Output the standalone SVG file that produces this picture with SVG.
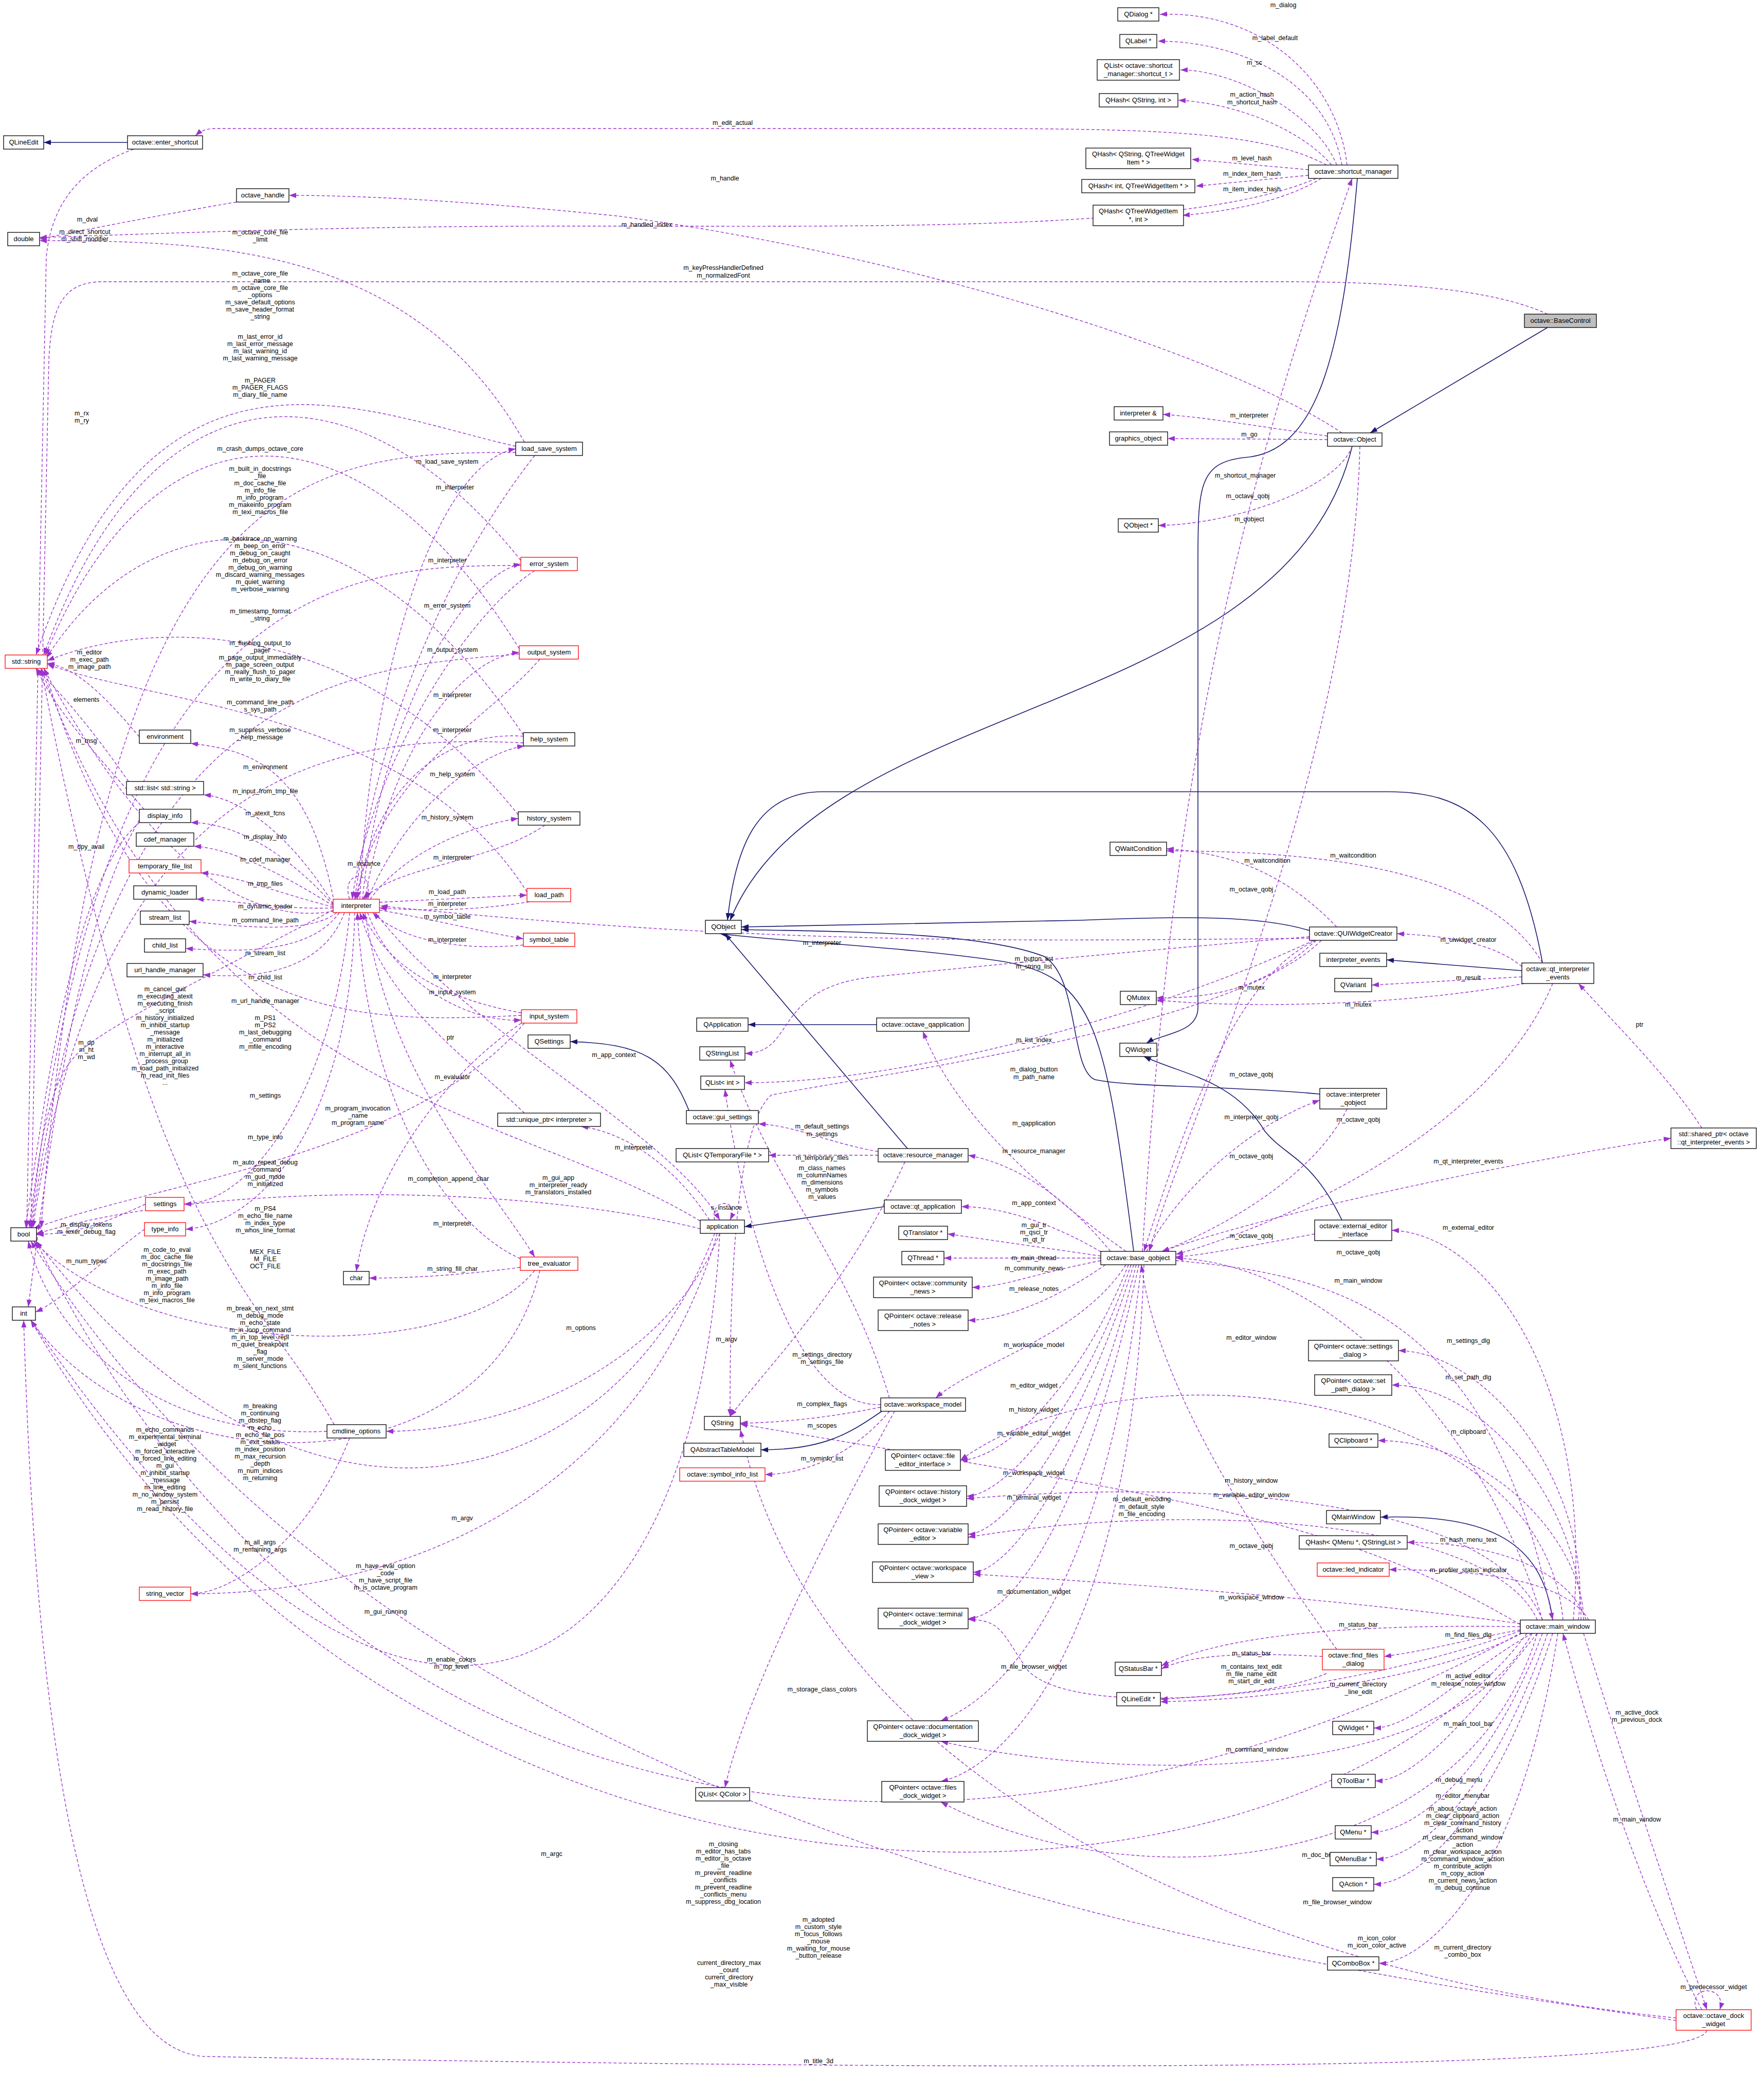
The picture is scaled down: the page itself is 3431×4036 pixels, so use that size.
<svg xmlns="http://www.w3.org/2000/svg" width="3431" height="4036" viewBox="0 0 3431 4036">
<style>
text{font-family:"Liberation Sans",Arial,sans-serif;font-size:13px;fill:#000}
.n rect{fill:#fff;stroke:#000;stroke-width:1.3}
.r rect{stroke:#f00}
.g rect{fill:#bfbfbf}
.n text{text-anchor:middle}
.e{fill:none;stroke:#9a32cd;stroke-width:1.4;stroke-dasharray:6,4;marker-end:url(#ap)}
.i{fill:none;stroke:#191970;stroke-width:1.6;marker-end:url(#an)}
.lb text{text-anchor:middle;font-size:12.5px}
</style>
<defs>
<marker id="ap" markerUnits="userSpaceOnUse" markerWidth="15" markerHeight="11" refX="14" refY="5" orient="auto"><path d="M0,0L14,5L0,10z" fill="#9a32cd"/></marker>
<marker id="an" markerUnits="userSpaceOnUse" markerWidth="15" markerHeight="11" refX="14" refY="5" orient="auto"><path d="M0,0L14,5L0,10z" fill="#191970"/></marker>
</defs>
<rect width="3431" height="4036" fill="#fff"/>
<g id="connectors">
<path class="i" d="M248,277L85,277"/>
<path class="i" d="M3010,637L2665,842"/>
<path class="i" d="M2630,868C2500,1400 1600,1350 1420,1790"/>
<path class="i" d="M2640,347C2610,700 2560,880 2420,890C2330,900 2330,950 2330,1100L2330,1960C2330,2010 2260,2010 2230,2029"/>
<path class="i" d="M2547,1810C2450,1780 2300,1782 2100,1790L1442,1803"/>
<path class="i" d="M3000,1872C2950,1600 2850,1540 2700,1540L1600,1540C1470,1540 1430,1650 1415,1790"/>
<path class="i" d="M2960,1888L2697,1867"/>
<path class="i" d="M1705,1993L1455,1993"/>
<path class="i" d="M2567,2128C2400,2112 2200,2115 2130,2100C2080,2080 2100,1900 2030,1860C1900,1810 1600,1812 1442,1808"/>
<path class="i" d="M1340,2160C1300,2060 1250,2030 1109,2026"/>
<path class="i" d="M1765,2234L1410,1816"/>
<path class="i" d="M1720,2347L1448,2386"/>
<path class="i" d="M2610,2373C2550,2250 2500,2250 2460,2200C2400,2100 2300,2090 2225,2055"/>
<path class="i" d="M2205,2434C2150,2000 2130,1900 1950,1870C1750,1840 1500,1830 1400,1816"/>
<path class="i" d="M1715,2745C1650,2790 1600,2820 1480,2820"/>
<path class="i" d="M3020,3151C3000,3000 2900,2945 2685,2951"/>

<path class="e" d="M2620,321C2600,150 2450,20 2256,28"/>
<path class="e" d="M2610,321C2580,150 2400,80 2252,80"/>
<path class="e" d="M2600,321C2560,220 2400,136 2296,136"/>
<path class="e" d="M2590,321C2530,250 2400,200 2292,195"/>
<path class="e" d="M2545,330L2318,310"/>
<path class="e" d="M2545,341L2326,362"/>
<path class="e" d="M2570,347C2500,390 2400,410 2300,419"/>
<path class="e" d="M2580,321C2450,250 2200,250 1800,250L420,250C400,250 390,255 380,264"/>
<path class="e" d="M2560,347C2300,460 1600,437 1000,440C600,442 300,455 77,462"/>
<path class="e" d="M2582,848C2450,830 2350,812 2262,806"/>
<path class="e" d="M2582,855L2271,853"/>
<path class="e" d="M2630,868C2600,950 2400,1020 2253,1022"/>
<path class="e" d="M2610,842C2400,700 1800,500 1200,420C900,390 700,380 562,380"/>
<path class="e" d="M2645,868C2630,1500 2300,2200 2235,2434"/>
<path class="e" d="M2222,2434C2280,1500 2400,1000 2630,347"/>
<path class="e" d="M3010,611C2900,560 2700,548 2500,548L200,548C120,548 100,600 95,700L60,2388"/>
<path class="e" d="M260,290C150,330 100,400 90,500L52,2388"/>
<path class="e" d="M460,393C300,420 150,450 77,465"/>

<path class="e" d="M700,1749C720,1300 850,900 1003,873"/>
<path class="e" d="M1040,886C950,1000 750,1300 690,1749"/>
<path class="e" d="M705,1749C740,1400 900,1120 1013,1097"/>
<path class="e" d="M1040,1110C900,1200 720,1500 685,1749"/>
<path class="e" d="M710,1749C760,1450 900,1280 1010,1269"/>
<path class="e" d="M1050,1282C950,1400 740,1500 692,1749"/>
<path class="e" d="M715,1749C800,1550 950,1460 1020,1451"/>
<path class="e" d="M1018,1432C850,1420 720,1550 695,1749"/>
<path class="e" d="M720,1749C800,1640 950,1600 1008,1592"/>
<path class="e" d="M1060,1605C950,1680 780,1680 705,1749"/>
<path class="e" d="M738,1755L1025,1741"/>
<path class="e" d="M1030,1754C900,1775 800,1770 738,1766"/>
<path class="e" d="M738,1770C850,1790 950,1815 1018,1826"/>
<path class="e" d="M1018,1838C900,1850 780,1830 725,1775"/>
<path class="e" d="M715,1775C760,1900 900,1990 1014,1984"/>
<path class="e" d="M1014,1970C900,1950 760,1900 705,1775"/>
<path class="e" d="M710,1775C760,2100 950,2300 1040,2445"/>
<path class="e" d="M1012,2448C900,2400 720,2200 695,1775"/>
<path class="e" d="M1020,2165C900,2050 750,1950 700,1775"/>
<path class="e" d="M680,1749C660,1690 735,1690 712,1749"/>
<path class="e" d="M730,1775C900,2000 1300,2200 1400,2373"/>
<path class="e" d="M650,1755C600,1500 500,1460 371,1446"/>
<path class="e" d="M648,1758C550,1600 450,1550 396,1546"/>
<path class="e" d="M648,1760C550,1650 450,1600 371,1600"/>
<path class="e" d="M648,1762C550,1700 450,1650 377,1646"/>
<path class="e" d="M648,1764C550,1740 450,1700 391,1698"/>
<path class="e" d="M648,1766C550,1770 450,1750 382,1749"/>
<path class="e" d="M655,1775C600,1820 450,1800 368,1792"/>
<path class="e" d="M660,1775C600,1860 450,1850 361,1845"/>
<path class="e" d="M670,1775C620,1910 450,1900 395,1896"/>
<path class="e" d="M680,1775C650,2100 500,2340 358,2342"/>
<path class="e" d="M690,1775C680,2200 500,2380 361,2391"/>
<path class="e" d="M648,1770C400,1900 200,2000 150,2050C100,2100 80,2200 57,2388"/>
<path class="e" d="M650,1772C500,1800 300,1700 85,1300"/>

<path class="e" d="M271,1433C200,1350 150,1300 92,1290"/>
<path class="e" d="M250,1520C180,1420 130,1360 70,1300"/>
<path class="e" d="M271,1595C150,1800 100,2200 55,2542"/>
<path class="e" d="M271,1600C150,1700 90,2100 50,2388"/>
<path class="e" d="M280,1574C200,1480 120,1400 70,1300"/>
<path class="e" d="M283,2342C200,2380 150,2400 71,2401"/>
<path class="e" d="M281,2391C200,2450 120,2530 69,2552"/>
<path class="e" d="M636,2784C300,2800 100,2600 55,2414"/>
<path class="e" d="M680,2797C600,3000 450,3100 371,3100"/>
<path class="e" d="M650,2771C500,2500 300,2450 80,1300"/>
<path class="e" d="M1003,868C700,800 300,600 70,1274"/>
<path class="e" d="M1003,880C600,880 200,900 80,2388"/>
<path class="e" d="M1020,860C800,470 400,470 77,468"/>
<path class="e" d="M1013,1090C700,700 300,680 85,1274"/>
<path class="e" d="M1013,1100C700,1100 200,1100 60,2388"/>
<path class="e" d="M1010,1262C700,760 300,760 88,1275"/>
<path class="e" d="M1010,1272C700,1300 200,1300 62,2388"/>
<path class="e" d="M1018,1430C700,950 300,950 90,1280"/>
<path class="e" d="M1018,1445C700,1430 200,1450 64,2388"/>
<path class="e" d="M1008,1585C700,1200 300,1200 92,1285"/>
<path class="e" d="M1025,1735C800,1380 300,1370 92,1292"/>
<path class="e" d="M1012,2465C900,2480 800,2486 718,2486"/>
<path class="e" d="M1040,2471C900,2650 300,2650 65,2414"/>
<path class="e" d="M1050,2471C950,2900 300,2900 60,2568"/>
<path class="e" d="M1014,1990C850,2100 720,2300 693,2473"/>
<path class="e" d="M1020,1990C800,2250 300,2300 65,2390"/>
<path class="e" d="M1014,1975C700,1990 300,2010 86,1300"/>

<path class="e" d="M1380,2373C1300,2250 1200,2200 1130,2191"/>
<path class="e" d="M1390,2373C1380,2330 1440,2330 1420,2373"/>
<path class="e" d="M1400,2399C1300,2650 1000,2784 751,2784"/>
<path class="e" d="M1395,2399C1250,2900 800,3100 371,3100"/>
<path class="e" d="M1390,2399C1200,2900 600,3100 70,2414"/>
<path class="e" d="M1370,2380C1000,2150 400,2160 80,1300"/>
<path class="e" d="M1400,2399C1350,3300 800,3650 60,2568"/>
<path class="e" d="M1362,2390C1000,2300 400,2300 70,2400"/>

<path class="e" d="M2560,1829C2400,1900 2300,2200 2225,2434"/>
<path class="e" d="M2547,1822C2200,1850 1900,1880 1700,1900C1500,1920 1550,2049 1449,2049"/>
<path class="e" d="M2555,1829C2300,1950 1800,2106 1448,2106"/>
<path class="e" d="M2570,1829C2400,2000 1700,2090 1500,2130C1420,2200 1420,2600 1420,2755"/>
<path class="e" d="M2600,1803C2500,1700 2400,1660 2269,1651"/>
<path class="e" d="M2560,1829C2450,1930 2350,1941 2249,1941"/>
<path class="e" d="M2547,1825C2000,1830 1500,1840 740,1762"/>
<path class="e" d="M2960,1880C2900,1830 2800,1820 2717,1816"/>
<path class="e" d="M2960,1900L2668,1916"/>
<path class="e" d="M2965,1913C2700,1960 2400,1960 2249,1945"/>
<path class="e" d="M3000,1873C2900,1700 2600,1655 2269,1655"/>
<path class="e" d="M3020,1913C2900,2200 2500,2380 2287,2440"/>
<path class="e" d="M3310,2194C3250,2100 3150,2000 3070,1913"/>
<path class="e" d="M2620,2157C2550,2300 2350,2400 2260,2434"/>
<path class="e" d="M2230,2434C2300,2300 2450,2180 2567,2140"/>
<path class="e" d="M2260,2434C2500,2350 3000,2250 3250,2214"/>
<path class="e" d="M2190,2434C2000,2300 1850,2150 1795,2006"/>
<path class="e" d="M2160,2434C2050,2300 1950,2260 1883,2247"/>
<path class="e" d="M2150,2440C2050,2380 1950,2347 1870,2347"/>
<path class="e" d="M2141,2443L1843,2400"/>
<path class="e" d="M2141,2447L1836,2447"/>
<path class="e" d="M2141,2452C2000,2480 1950,2504 1891,2504"/>
<path class="e" d="M2150,2460C2050,2530 1950,2568 1883,2568"/>
<path class="e" d="M2190,2460C2100,2600 1900,2650 1820,2719"/>
<path class="e" d="M2195,2460C2100,2700 1950,2840 1868,2840"/>
<path class="e" d="M2200,2460C2100,2750 1950,2910 1880,2910"/>
<path class="e" d="M2205,2460C2100,2800 1950,2984 1883,2984"/>
<path class="e" d="M2210,2460C2100,2900 1950,3058 1893,3058"/>
<path class="e" d="M2215,2460C2100,3000 1950,3148 1883,3148"/>
<path class="e" d="M2220,2460C2150,3100 1950,3300 1830,3347"/>
<path class="e" d="M2225,2460C2200,3200 1950,3440 1830,3465"/>
<path class="e" d="M2287,2452C2600,2480 2900,2550 3020,3151"/>
<path class="e" d="M3000,3151C2900,2800 2600,2460 2287,2447"/>
<path class="e" d="M2557,2400C2450,2420 2350,2440 2287,2445"/>
<path class="e" d="M3060,3151C3100,2700 2900,2400 2707,2393"/>
<path class="e" d="M3070,3151C3100,2900 2900,2630 2720,2627"/>
<path class="e" d="M3075,3151C3080,2950 2900,2694 2707,2694"/>
<path class="e" d="M3080,3151C3080,3000 2900,2802 2680,2802"/>
<path class="e" d="M3085,3151C3050,3050 2900,3000 2737,3000"/>
<path class="e" d="M3090,3151C3050,3080 2900,3053 2702,3053"/>
<path class="e" d="M2957,3170C2850,3190 2780,3210 2692,3222"/>
<path class="e" d="M2957,3164C2700,3160 2400,3170 2259,3240"/>
<path class="e" d="M2572,3222C2450,3215 2320,3215 2259,3246"/>
<path class="e" d="M2580,3255C2500,3290 2350,3300 2257,3305"/>
<path class="e" d="M2960,3177C2800,3260 2500,3305 2257,3310"/>
<path class="e" d="M2980,3177C2850,3250 2750,3361 2672,3361"/>
<path class="e" d="M2990,3177C2850,3350 2750,3464 2675,3464"/>
<path class="e" d="M3000,3177C2900,3450 2750,3564 2667,3564"/>
<path class="e" d="M3010,3177C2900,3500 2750,3616 2677,3616"/>
<path class="e" d="M3020,3177C2900,3550 2750,3665 2672,3665"/>
<path class="e" d="M3030,3177C2950,3700 2750,3819 2682,3819"/>
<path class="e" d="M3080,3177C3150,3400 3250,3700 3320,3909"/>
<path class="e" d="M3310,3909C3200,3700 3100,3400 3040,3177"/>
<path class="e" d="M3300,3909C3280,3860 3360,3860 3345,3909"/>
<path class="e" d="M3260,3925C2500,3850 1600,3500 1440,2781"/>
<path class="e" d="M3260,3930C2500,3820 800,3600 60,2414"/>
<path class="e" d="M3320,3949C3300,4030 2000,4030 400,4000C100,3990 60,3000 46,2568"/>
<path class="e" d="M2970,3177C2500,3800 800,3850 60,2568"/>
<path class="e" d="M2960,3175C2000,3700 700,3700 70,2414"/>
<path class="e" d="M2957,3160C2600,2950 2300,2916 1440,2770"/>
<path class="e" d="M3040,3151C3000,2700 2200,2600 1868,2840"/>
<path class="e" d="M3000,3151C2900,2900 2300,2880 1880,2915"/>
<path class="e" d="M2990,3151C2900,2950 2300,2920 1883,2990"/>
<path class="e" d="M2957,3158C2600,3110 2200,3080 1893,3062"/>
<path class="e" d="M2957,3172C2600,3300 2100,3350 2000,3250C1950,3180 1950,3150 1883,3150"/>
<path class="e" d="M2980,3177C2800,3500 2100,3450 1830,3387"/>
<path class="e" d="M2990,3177C2850,3650 2200,3700 1830,3505"/>
<path class="e" d="M2600,3208C2450,3000 2250,2700 2220,2460"/>
<path class="e" d="M1708,2247L1495,2247"/>
<path class="e" d="M1708,2240C1600,2220 1550,2190 1475,2186"/>
<path class="e" d="M1760,2260C1650,2500 1500,2650 1420,2755"/>
<path class="e" d="M1730,2719C1650,2450 1500,2300 1420,2062"/>
<path class="e" d="M1713,2732C1550,2740 1450,2400 1410,2119"/>
<path class="e" d="M1713,2737C1600,2760 1500,2768 1440,2768"/>
<path class="e" d="M1730,2745C1650,2840 1550,2868 1488,2868"/>
<path class="e" d="M1740,2745C1600,3000 1450,3300 1410,3477"/>
</g>
<g class="lb">
<text x="2496" y="14">m_dialog</text>
<text x="2480" y="78">m_label_default</text>
<text x="2440" y="126">m_sc</text>
<text x="2435" y="188">m_action_hash</text><text x="2435" y="203">m_shortcut_hash</text>
<text x="2435" y="312">m_level_hash</text>
<text x="2435" y="342">m_index_item_hash</text>
<text x="2435" y="372">m_item_index_hash</text>
<text x="1425" y="243">m_edit_actual</text>
<text x="1258" y="441">m_handled_index</text>
<text x="2430" y="812">m_interpreter</text>
<text x="2430" y="849">m_go</text>
<text x="2430" y="1014">m_qobject</text>
<text x="1410" y="351">m_handle</text>
<text x="2422" y="929">m_shortcut_manager</text>
<text x="2427" y="969">m_octave_qobj</text>
<text x="1407" y="525">m_keyPressHandlerDefined</text><text x="1407" y="540">m_normalizedFont</text>
<text x="165" y="455">m_direct_shortcut</text><text x="165" y="469">m_shift_modifier</text>
<text x="170" y="431">m_dval</text>
<text x="870" y="902">m_load_save_system</text>
<text x="885" y="952">m_interpreter</text>
<text x="870" y="1182">m_error_system</text>
<text x="870" y="1094">m_interpreter</text>
<text x="880" y="1268">m_output_system</text>
<text x="880" y="1356">m_interpreter</text>
<text x="880" y="1510">m_help_system</text>
<text x="880" y="1424">m_interpreter</text>
<text x="870" y="1594">m_history_system</text>
<text x="880" y="1672">m_interpreter</text>
<text x="870" y="1739">m_load_path</text>
<text x="870" y="1762">m_interpreter</text>
<text x="870" y="1787">m_symbol_table</text>
<text x="870" y="1832">m_interpreter</text>
<text x="880" y="1934">m_input_system</text>
<text x="880" y="1904">m_interpreter</text>
<text x="880" y="2099">m_evaluator</text>
<text x="880" y="2384">m_interpreter</text>
<text x="876" y="2022">ptr</text>
<text x="708" y="1684">m_instance</text>
<text x="1194" y="2056">m_app_context</text>
<text x="516" y="1496">m_environment</text>
<text x="516" y="1543">m_input_from_tmp_file</text>
<text x="516" y="1586">m_atexit_fcns</text>
<text x="516" y="1632">m_display_info</text>
<text x="516" y="1676">m_cdef_manager</text>
<text x="516" y="1723">m_tmp_files</text>
<text x="516" y="1767">m_dynamic_loader</text>
<text x="516" y="1794">m_command_line_path</text>
<text x="516" y="1858">m_stream_list</text>
<text x="516" y="1905">m_child_list</text>
<text x="516" y="1951">m_url_handle_manager</text>
<text x="516" y="1984">m_PS1</text><text x="516" y="1998">m_PS2</text><text x="516" y="2012">m_last_debugging</text><text x="516" y="2026">_command</text><text x="516" y="2040">m_mfile_encoding</text>
<text x="516" y="2135">m_settings</text>
<text x="516" y="2216">m_type_info</text>
<text x="516" y="2265">m_auto_repeat_debug</text><text x="516" y="2279">_command</text><text x="516" y="2293">m_gud_mode</text><text x="516" y="2307">m_initialized</text>
<text x="516" y="2355">m_PS4</text><text x="516" y="2369">m_echo_file_name</text><text x="516" y="2383">m_index_type</text><text x="516" y="2397">m_whos_line_format</text>
<text x="516" y="2439">MEX_FILE</text><text x="516" y="2453">M_FILE</text><text x="516" y="2467">OCT_FILE</text>
<text x="321" y="1928">m_cancel_quit</text><text x="321" y="1942">m_executing_atexit</text><text x="321" y="1956">m_executing_finish</text><text x="321" y="1970">_script</text><text x="321" y="1984">m_history_initialized</text><text x="321" y="1998">m_inhibit_startup</text><text x="321" y="2012">_message</text><text x="321" y="2026">m_initialized</text><text x="321" y="2040">m_interactive</text><text x="321" y="2054">m_interrupt_all_in</text><text x="321" y="2068">_process_group</text><text x="321" y="2082">m_load_path_initialized</text><text x="321" y="2096">m_read_init_files</text><text x="321" y="2110">...</text>
<text x="168" y="2032">m_dp</text><text x="168" y="2046">m_ht</text><text x="168" y="2060">m_wd</text>
<text x="168" y="1651">m_dpy_avail</text>
<text x="168" y="1445">m_msg</text>
<text x="168" y="1365">elements</text>
<text x="174" y="1273">m_editor</text><text x="174" y="1287">m_exec_path</text><text x="174" y="1301">m_image_path</text>
<text x="168" y="2386">m_display_tokens</text><text x="168" y="2400">m_lexer_debug_flag</text>
<text x="168" y="2457">m_num_types</text>
<text x="325" y="2435">m_code_to_eval</text><text x="325" y="2449">m_doc_cache_file</text><text x="325" y="2463">m_docstrings_file</text><text x="325" y="2477">m_exec_path</text><text x="325" y="2491">m_image_path</text><text x="325" y="2505">m_info_file</text><text x="325" y="2519">m_info_program</text><text x="325" y="2533">m_texi_macros_file</text>
<text x="880" y="2472">m_string_fill_char</text>
<text x="872" y="2297">m_completion_append_char</text>
<text x="1086" y="2295">m_gui_app</text><text x="1086" y="2309">m_interpreter_ready</text><text x="1086" y="2323">m_translators_installed</text>
<text x="696" y="2160">m_program_invocation</text><text x="696" y="2174">_name</text><text x="696" y="2188">m_program_name</text>
<text x="506" y="456">m_octave_core_file</text><text x="506" y="470">_limit</text>
<text x="506" y="536">m_octave_core_file</text><text x="506" y="550">_name</text><text x="506" y="564">m_octave_core_file</text><text x="506" y="578">_options</text><text x="506" y="592">m_save_default_options</text><text x="506" y="606">m_save_header_format</text><text x="506" y="620">_string</text>
<text x="506" y="659">m_last_error_id</text><text x="506" y="673">m_last_error_message</text><text x="506" y="687">m_last_warning_id</text><text x="506" y="701">m_last_warning_message</text>
<text x="506" y="744">m_PAGER</text><text x="506" y="758">m_PAGER_FLAGS</text><text x="506" y="772">m_diary_file_name</text>
<text x="506" y="877">m_crash_dumps_octave_core</text>
<text x="506" y="916">m_built_in_docstrings</text><text x="506" y="930">_file</text><text x="506" y="944">m_doc_cache_file</text><text x="506" y="958">m_info_file</text><text x="506" y="972">m_info_program</text><text x="506" y="986">m_makeinfo_program</text><text x="506" y="1000">m_texi_macros_file</text>
<text x="506" y="1052">m_backtrace_on_warning</text><text x="506" y="1066">m_beep_on_error</text><text x="506" y="1080">m_debug_on_caught</text><text x="506" y="1094">m_debug_on_error</text><text x="506" y="1108">m_debug_on_warning</text><text x="506" y="1122">m_discard_warning_messages</text><text x="506" y="1136">m_quiet_warning</text><text x="506" y="1150">m_verbose_warning</text>
<text x="506" y="1193">m_timestamp_format</text><text x="506" y="1207">_string</text>
<text x="506" y="1255">m_flushing_output_to</text><text x="506" y="1269">_pager</text><text x="506" y="1283">m_page_output_immediately</text><text x="506" y="1297">m_page_screen_output</text><text x="506" y="1311">m_really_flush_to_pager</text><text x="506" y="1325">m_write_to_diary_file</text>
<text x="506" y="1370">m_command_line_path</text><text x="506" y="1384">s_sys_path</text>
<text x="506" y="1424">m_suppress_verbose</text><text x="506" y="1438">_help_message</text>
<text x="159" y="808">m_rx</text><text x="159" y="822">m_ry</text>
<text x="506" y="2549">m_break_on_next_stmt</text><text x="506" y="2563">m_debug_mode</text><text x="506" y="2577">m_echo_state</text><text x="506" y="2591">m_in_loop_command</text><text x="506" y="2605">m_in_top_level_repl</text><text x="506" y="2619">m_quiet_breakpoint</text><text x="506" y="2633">_flag</text><text x="506" y="2647">m_server_mode</text><text x="506" y="2661">m_silent_functions</text>
<text x="506" y="2739">m_breaking</text><text x="506" y="2753">m_continuing</text><text x="506" y="2767">m_dbstep_flag</text><text x="506" y="2781">m_echo</text><text x="506" y="2795">m_echo_file_pos</text><text x="506" y="2809">m_exit_status</text><text x="506" y="2823">m_index_position</text><text x="506" y="2837">m_max_recursion</text><text x="506" y="2851">_depth</text><text x="506" y="2865">m_num_indices</text><text x="506" y="2879">m_returning</text>
<text x="321" y="2785">m_echo_commands</text><text x="321" y="2799">m_experimental_terminal</text><text x="321" y="2813">_widget</text><text x="321" y="2827">m_forced_interactive</text><text x="321" y="2841">m_forced_line_editing</text><text x="321" y="2855">m_gui</text><text x="321" y="2869">m_inhibit_startup</text><text x="321" y="2883">_message</text><text x="321" y="2897">m_line_editing</text><text x="321" y="2911">m_no_window_system</text><text x="321" y="2925">m_persist</text><text x="321" y="2939">m_read_history_file</text>
<text x="506" y="3004">m_all_args</text><text x="506" y="3018">m_remaining_args</text>
<text x="750" y="3050">m_have_eval_option</text><text x="750" y="3064">_code</text><text x="750" y="3078">m_have_script_file</text><text x="750" y="3092">m_is_octave_program</text>
<text x="750" y="3139">m_gui_running</text>
<text x="878" y="3232">m_enable_colors</text><text x="878" y="3246">m_top_level</text>
<text x="899" y="2957">m_argv</text>
<text x="1073" y="3610">m_argc</text>
<text x="1130" y="2587">m_options</text>
<text x="1233" y="2236">m_interpreter</text>
<text x="1413" y="2353">s_instance</text>
<text x="1413" y="2609">m_argv</text>
<text x="1407" y="3591">m_closing</text><text x="1407" y="3605">m_editor_has_tabs</text><text x="1407" y="3619">m_editor_is_octave</text><text x="1407" y="3633">_file</text><text x="1407" y="3647">m_prevent_readline</text><text x="1407" y="3661">_conflicts</text><text x="1407" y="3675">m_prevent_readline</text><text x="1407" y="3689">_conflicts_menu</text><text x="1407" y="3703">m_suppress_dbg_location</text>
<text x="1592" y="3738">m_adopted</text><text x="1592" y="3752">m_custom_style</text><text x="1592" y="3766">m_focus_follows</text><text x="1592" y="3780">_mouse</text><text x="1592" y="3794">m_waiting_for_mouse</text><text x="1592" y="3808">_button_release</text>
<text x="1418" y="3822">current_directory_max</text><text x="1418" y="3836">_count</text><text x="1418" y="3850">current_directory</text><text x="1418" y="3864">_max_visible</text>
<text x="1592" y="4013">m_title_3d</text>
<text x="2678" y="3774">m_icon_color</text><text x="2678" y="3788">m_icon_color_active</text>
<text x="3184" y="3543">m_main_window</text>
<text x="3333" y="3869">m_predecessor_widget</text>
<text x="3184" y="3335">m_active_dock</text><text x="3184" y="3349">m_previous_dock</text>
<text x="2845" y="3522">m_about_octave_action</text><text x="2845" y="3536">m_clear_clipboard_action</text><text x="2845" y="3550">m_clear_command_history</text><text x="2845" y="3564">_action</text><text x="2845" y="3578">m_clear_command_window</text><text x="2845" y="3592">_action</text><text x="2845" y="3606">m_clear_workspace_action</text><text x="2845" y="3620">m_command_window_action</text><text x="2845" y="3634">m_contribute_action</text><text x="2845" y="3648">m_copy_action</text><text x="2845" y="3662">m_current_news_action</text><text x="2845" y="3676">m_debug_continue</text>
<text x="2845" y="3497">m_editor_menubar</text>
<text x="2838" y="3466">m_debug_menu</text>
<text x="2856" y="3357">m_main_tool_bar</text>
<text x="2856" y="3264">m_active_editor</text><text x="2856" y="3279">m_release_notes_window</text>
<text x="2642" y="3280">m_current_directory</text><text x="2642" y="3295">_line_edit</text>
<text x="2434" y="3246">m_contains_text_edit</text><text x="2434" y="3260">m_file_name_edit</text><text x="2434" y="3274">m_start_dir_edit</text>
<text x="2434" y="3220">m_status_bar</text>
<text x="2642" y="3164">m_status_bar</text>
<text x="2856" y="3184">m_find_files_dlg</text>
<text x="2011" y="3246">m_file_browser_widget</text>
<text x="2434" y="3011">m_octave_qobj</text>
<text x="2011" y="3100">m_documentation_widget</text>
<text x="2434" y="3111">m_workspace_window</text>
<text x="2445" y="3407">m_command_window</text>
<text x="2601" y="3612">m_doc_browser_window</text>
<text x="2601" y="3704">m_file_browser_window</text>
<text x="2845" y="3792">m_current_directory</text><text x="2845" y="3806">_combo_box</text>
<text x="2434" y="1734">m_octave_qobj</text>
<text x="1599" y="1838">m_interpreter</text>
<text x="2011" y="1869">m_button_list</text><text x="2011" y="1884">m_string_list</text>
<text x="2856" y="1832">m_uiwidget_creator</text>
<text x="2856" y="1906">m_result</text>
<text x="2434" y="1925">m_mutex</text>
<text x="2642" y="1958">m_mutex</text>
<text x="2465" y="1678">m_waitcondition</text>
<text x="2632" y="1668">m_waitcondition</text>
<text x="3189" y="1997">ptr</text>
<text x="2011" y="2027">m_list_index</text>
<text x="2011" y="2084">m_dialog_button</text><text x="2011" y="2099">m_path_name</text>
<text x="2434" y="2094">m_octave_qobj</text>
<text x="2011" y="2189">m_qapplication</text>
<text x="2434" y="2177">m_interpreter_qobj</text>
<text x="2642" y="2182">m_octave_qobj</text>
<text x="1599" y="2195">m_default_settings</text><text x="1599" y="2210">m_settings</text>
<text x="2011" y="2243">m_resource_manager</text>
<text x="1599" y="2256">m_temporary_files</text>
<text x="2434" y="2253">m_octave_qobj</text>
<text x="2856" y="2263">m_qt_interpreter_events</text>
<text x="1599" y="2276">m_class_names</text><text x="1599" y="2290">m_columnNames</text><text x="1599" y="2304">m_dimensions</text><text x="1599" y="2318">m_symbols</text><text x="1599" y="2332">m_values</text>
<text x="2011" y="2344">m_app_context</text>
<text x="2011" y="2387">m_gui_tr</text><text x="2011" y="2401">m_qsci_tr</text><text x="2011" y="2415">m_qt_tr</text>
<text x="2856" y="2392">m_external_editor</text>
<text x="2434" y="2408">m_octave_qobj</text>
<text x="2642" y="2440">m_octave_qobj</text>
<text x="2011" y="2451">m_main_thread</text>
<text x="2011" y="2471">m_community_news</text>
<text x="2642" y="2495">m_main_window</text>
<text x="2011" y="2511">m_release_notes</text>
<text x="2434" y="2606">m_editor_window</text>
<text x="2856" y="2612">m_settings_dlg</text>
<text x="2011" y="2620">m_workspace_model</text>
<text x="1599" y="2639">m_settings_directory</text><text x="1599" y="2653">m_settings_file</text>
<text x="2856" y="2683">m_set_path_dlg</text>
<text x="2011" y="2699">m_editor_widget</text>
<text x="1599" y="2735">m_complex_flags</text>
<text x="2011" y="2746">m_history_widget</text>
<text x="1599" y="2777">m_scopes</text>
<text x="2856" y="2789">m_clipboard</text>
<text x="2011" y="2792">m_variable_editor_widget</text>
<text x="1599" y="2841">m_syminfo_list</text>
<text x="2011" y="2869">m_workspace_widget</text>
<text x="2434" y="2884">m_history_window</text>
<text x="2434" y="2912">m_variable_editor_window</text>
<text x="2011" y="2917">m_terminal_widget</text>
<text x="2221" y="2920">m_default_encoding</text><text x="2221" y="2935">m_default_style</text><text x="2221" y="2949">m_file_encoding</text>
<text x="2856" y="2999">m_hash_menu_text</text>
<text x="2856" y="3058">m_profiler_status_indicator</text>
<text x="1599" y="3290">m_storage_class_colors</text>
</g>

<g id="QDialog" class="n"><rect x="2174" y="15" width="80" height="26"/><text x="2214" y="32">QDialog *</text></g>
<g id="QLabel" class="n"><rect x="2178" y="67" width="72" height="26"/><text x="2214" y="84">QLabel *</text></g>
<g id="QListShortcut" class="n"><rect x="2134" y="116" width="160" height="40"/><text x="2214" y="132">QList&lt; octave::shortcut</text><text x="2214" y="148">_manager::shortcut_t &gt;</text></g>
<g id="QHashQStringInt" class="n"><rect x="2138" y="182" width="153" height="26"/><text x="2214" y="199">QHash&lt; QString, int &gt;</text></g>
<g id="QLineEdit" class="n"><rect x="7" y="264" width="78" height="26"/><text x="46" y="281">QLineEdit</text></g>
<g id="enter_shortcut" class="n"><rect x="248" y="264" width="146" height="26"/><text x="321" y="281">octave::enter_shortcut</text></g>
<g id="shortcut_manager" class="n"><rect x="2545" y="321" width="174" height="26"/><text x="2632" y="338">octave::shortcut_manager</text></g>
<g id="QHashQStringTree" class="n"><rect x="2112" y="288" width="204" height="40"/><text x="2214" y="304">QHash&lt; QString, QTreeWidget</text><text x="2214" y="320">Item * &gt;</text></g>
<g id="QHashIntTree" class="n"><rect x="2104" y="349" width="220" height="26"/><text x="2214" y="366">QHash&lt; int, QTreeWidgetItem * &gt;</text></g>
<g id="QHashTreeInt" class="n"><rect x="2126" y="399" width="176" height="40"/><text x="2214" y="415">QHash&lt; QTreeWidgetItem</text><text x="2214" y="431">*, int &gt;</text></g>
<g id="octave_handle" class="n"><rect x="460" y="367" width="102" height="26"/><text x="511" y="384">octave_handle</text></g>
<g id="double" class="n"><rect x="15" y="452" width="62" height="26"/><text x="46" y="469">double</text></g>
<g id="BaseControl" class="n g"><rect x="2965" y="611" width="140" height="26"/><text x="3035" y="628">octave::BaseControl</text></g>
<g id="interpreter_ref" class="n"><rect x="2167" y="791" width="95" height="26"/><text x="2214" y="808">interpreter &amp;</text></g>
<g id="graphics_object" class="n"><rect x="2158" y="840" width="113" height="26"/><text x="2214" y="857">graphics_object</text></g>
<g id="Object" class="n"><rect x="2582" y="842" width="106" height="26"/><text x="2635" y="859">octave::Object</text></g>
<g id="QObjectPtr" class="n"><rect x="2175" y="1009" width="78" height="26"/><text x="2214" y="1026">QObject *</text></g>
<g id="load_save_system" class="n"><rect x="1003" y="860" width="130" height="26"/><text x="1068" y="877">load_save_system</text></g>
<g id="error_system" class="n r"><rect x="1013" y="1084" width="110" height="26"/><text x="1068" y="1101">error_system</text></g>
<g id="std_string" class="n r"><rect x="10" y="1274" width="82" height="26"/><text x="51" y="1291">std::string</text></g>
<g id="output_system" class="n r"><rect x="1010" y="1256" width="115" height="26"/><text x="1068" y="1273">output_system</text></g>
<g id="environment" class="n"><rect x="271" y="1420" width="100" height="26"/><text x="321" y="1437">environment</text></g>
<g id="help_system" class="n"><rect x="1018" y="1425" width="100" height="26"/><text x="1068" y="1442">help_system</text></g>
<g id="std_list" class="n"><rect x="246" y="1520" width="150" height="26"/><text x="321" y="1537">std::list&lt; std::string &gt;</text></g>
<g id="display_info" class="n"><rect x="271" y="1574" width="100" height="26"/><text x="321" y="1591">display_info</text></g>
<g id="history_system" class="n"><rect x="1008" y="1579" width="120" height="26"/><text x="1068" y="1596">history_system</text></g>
<g id="cdef_manager" class="n"><rect x="265" y="1620" width="112" height="26"/><text x="321" y="1637">cdef_manager</text></g>
<g id="temporary_file_list" class="n r"><rect x="251" y="1672" width="140" height="26"/><text x="321" y="1689">temporary_file_list</text></g>
<g id="dynamic_loader" class="n"><rect x="260" y="1723" width="122" height="26"/><text x="321" y="1740">dynamic_loader</text></g>
<g id="interpreter" class="n r"><rect x="648" y="1749" width="90" height="26"/><text x="693" y="1766">interpreter</text></g>
<g id="load_path" class="n r"><rect x="1025" y="1728" width="85" height="26"/><text x="1068" y="1745">load_path</text></g>
<g id="stream_list" class="n"><rect x="273" y="1772" width="95" height="26"/><text x="321" y="1789">stream_list</text></g>
<g id="symbol_table" class="n r"><rect x="1018" y="1815" width="100" height="26"/><text x="1068" y="1832">symbol_table</text></g>
<g id="child_list" class="n"><rect x="281" y="1826" width="80" height="26"/><text x="321" y="1843">child_list</text></g>
<g id="url_handle_manager" class="n"><rect x="247" y="1874" width="148" height="26"/><text x="321" y="1891">url_handle_manager</text></g>
<g id="input_system" class="n r"><rect x="1014" y="1964" width="108" height="26"/><text x="1068" y="1981">input_system</text></g>
<g id="QSettings" class="n"><rect x="1027" y="2013" width="82" height="26"/><text x="1068" y="2030">QSettings</text></g>
<g id="unique_ptr" class="n"><rect x="968" y="2165" width="200" height="26"/><text x="1068" y="2182">std::unique_ptr&lt; interpreter &gt;</text></g>
<g id="settings" class="n r"><rect x="283" y="2329" width="75" height="26"/><text x="321" y="2346">settings</text></g>
<g id="type_info" class="n r"><rect x="281" y="2378" width="80" height="26"/><text x="321" y="2395">type_info</text></g>
<g id="bool" class="n"><rect x="21" y="2388" width="50" height="26"/><text x="46" y="2405">bool</text></g>
<g id="application" class="n"><rect x="1362" y="2373" width="86" height="26"/><text x="1405" y="2390">application</text></g>
<g id="tree_evaluator" class="n r"><rect x="1012" y="2445" width="112" height="26"/><text x="1068" y="2462">tree_evaluator</text></g>
<g id="char" class="n"><rect x="668" y="2473" width="50" height="26"/><text x="693" y="2490">char</text></g>
<g id="int" class="n"><rect x="24" y="2542" width="45" height="26"/><text x="46" y="2559">int</text></g>
<g id="cmdline_options" class="n"><rect x="636" y="2771" width="115" height="26"/><text x="693" y="2788">cmdline_options</text></g>
<g id="string_vector" class="n r"><rect x="271" y="3087" width="100" height="26"/><text x="321" y="3104">string_vector</text></g>
<g id="QWaitCondition" class="n"><rect x="2159" y="1638" width="110" height="26"/><text x="2214" y="1655">QWaitCondition</text></g>
<g id="QObject" class="n"><rect x="1372" y="1790" width="70" height="26"/><text x="1407" y="1807">QObject</text></g>
<g id="QUIWidgetCreator" class="n"><rect x="2547" y="1803" width="170" height="26"/><text x="2632" y="1820">octave::QUIWidgetCreator</text></g>
<g id="interpreter_events" class="n"><rect x="2567" y="1854" width="130" height="26"/><text x="2632" y="1871">interpreter_events</text></g>
<g id="QVariant" class="n"><rect x="2596" y="1903" width="72" height="26"/><text x="2632" y="1920">QVariant</text></g>
<g id="qt_interpreter_events" class="n"><rect x="2960" y="1873" width="140" height="40"/><text x="3030" y="1889">octave::qt_interpreter</text><text x="3030" y="1905">_events</text></g>
<g id="QMutex" class="n"><rect x="2179" y="1928" width="70" height="26"/><text x="2214" y="1945">QMutex</text></g>
<g id="QApplication" class="n"><rect x="1355" y="1980" width="100" height="26"/><text x="1405" y="1997">QApplication</text></g>
<g id="octave_qapplication" class="n"><rect x="1705" y="1980" width="180" height="26"/><text x="1795" y="1997">octave::octave_qapplication</text></g>
<g id="QStringList" class="n"><rect x="1361" y="2036" width="88" height="26"/><text x="1405" y="2053">QStringList</text></g>
<g id="QWidget" class="n"><rect x="2178" y="2029" width="72" height="26"/><text x="2214" y="2046">QWidget</text></g>
<g id="QListInt" class="n"><rect x="1363" y="2093" width="85" height="26"/><text x="1405" y="2110">QList&lt; int &gt;</text></g>
<g id="interpreter_qobject" class="n"><rect x="2567" y="2117" width="130" height="40"/><text x="2632" y="2133">octave::interpreter</text><text x="2632" y="2149">_qobject</text></g>
<g id="gui_settings" class="n"><rect x="1335" y="2160" width="140" height="26"/><text x="1405" y="2177">octave::gui_settings</text></g>
<g id="QListTempFile" class="n"><rect x="1315" y="2234" width="180" height="26"/><text x="1405" y="2251">QList&lt; QTemporaryFile * &gt;</text></g>
<g id="resource_manager" class="n"><rect x="1708" y="2234" width="175" height="26"/><text x="1795" y="2251">octave::resource_manager</text></g>
<g id="shared_ptr" class="n"><rect x="3250" y="2194" width="166" height="40"/><text x="3333" y="2210">std::shared_ptr&lt; octave</text><text x="3333" y="2226">::qt_interpreter_events &gt;</text></g>
<g id="qt_application" class="n"><rect x="1720" y="2334" width="150" height="26"/><text x="1795" y="2351">octave::qt_application</text></g>
<g id="external_editor_interface" class="n"><rect x="2557" y="2373" width="150" height="40"/><text x="2632" y="2389">octave::external_editor</text><text x="2632" y="2405">_interface</text></g>
<g id="QTranslator" class="n"><rect x="1748" y="2385" width="95" height="26"/><text x="1795" y="2402">QTranslator *</text></g>
<g id="base_qobject" class="n"><rect x="2141" y="2434" width="146" height="26"/><text x="2214" y="2451">octave::base_qobject</text></g>
<g id="QThread" class="n"><rect x="1754" y="2434" width="82" height="26"/><text x="1795" y="2451">QThread *</text></g>
<g id="community_news" class="n"><rect x="1699" y="2484" width="192" height="40"/><text x="1795" y="2500">QPointer&lt; octave::community</text><text x="1795" y="2516">_news &gt;</text></g>
<g id="release_notes" class="n"><rect x="1708" y="2548" width="175" height="40"/><text x="1795" y="2564">QPointer&lt; octave::release</text><text x="1795" y="2580">_notes &gt;</text></g>
<g id="settings_dialog" class="n"><rect x="2545" y="2607" width="175" height="40"/><text x="2632" y="2623">QPointer&lt; octave::settings</text><text x="2632" y="2639">_dialog &gt;</text></g>
<g id="set_path_dialog" class="n"><rect x="2557" y="2674" width="150" height="40"/><text x="2632" y="2690">QPointer&lt; octave::set</text><text x="2632" y="2706">_path_dialog &gt;</text></g>
<g id="workspace_model" class="n"><rect x="1713" y="2719" width="165" height="26"/><text x="1795" y="2736">octave::workspace_model</text></g>
<g id="QString" class="n"><rect x="1370" y="2755" width="70" height="26"/><text x="1405" y="2772">QString</text></g>
<g id="QClipboard" class="n"><rect x="2585" y="2789" width="95" height="26"/><text x="2632" y="2806">QClipboard *</text></g>
<g id="QAbstractTableModel" class="n"><rect x="1330" y="2807" width="150" height="26"/><text x="1405" y="2824">QAbstractTableModel</text></g>
<g id="file_editor_interface" class="n"><rect x="1722" y="2820" width="146" height="40"/><text x="1795" y="2836">QPointer&lt; octave::file</text><text x="1795" y="2852">_editor_interface &gt;</text></g>
<g id="symbol_info_list" class="n r"><rect x="1322" y="2855" width="166" height="26"/><text x="1405" y="2872">octave::symbol_info_list</text></g>
<g id="history_dock_widget" class="n"><rect x="1710" y="2890" width="170" height="40"/><text x="1795" y="2906">QPointer&lt; octave::history</text><text x="1795" y="2922">_dock_widget &gt;</text></g>
<g id="QMainWindow" class="n"><rect x="2580" y="2938" width="105" height="26"/><text x="2632" y="2955">QMainWindow</text></g>
<g id="variable_editor" class="n"><rect x="1708" y="2964" width="175" height="40"/><text x="1795" y="2980">QPointer&lt; octave::variable</text><text x="1795" y="2996">_editor &gt;</text></g>
<g id="QHashMenu" class="n"><rect x="2527" y="2987" width="210" height="26"/><text x="2632" y="3004">QHash&lt; QMenu *, QStringList &gt;</text></g>
<g id="led_indicator" class="n r"><rect x="2562" y="3040" width="140" height="26"/><text x="2632" y="3057">octave::led_indicator</text></g>
<g id="workspace_view" class="n"><rect x="1697" y="3038" width="196" height="40"/><text x="1795" y="3054">QPointer&lt; octave::workspace</text><text x="1795" y="3070">_view &gt;</text></g>
<g id="terminal_dock_widget" class="n"><rect x="1708" y="3128" width="175" height="40"/><text x="1795" y="3144">QPointer&lt; octave::terminal</text><text x="1795" y="3160">_dock_widget &gt;</text></g>
<g id="main_window" class="n"><rect x="2957" y="3151" width="146" height="26"/><text x="3030" y="3168">octave::main_window</text></g>
<g id="find_files_dialog" class="n r"><rect x="2572" y="3208" width="120" height="40"/><text x="2632" y="3224">octave::find_files</text><text x="2632" y="3240">_dialog</text></g>
<g id="QStatusBar" class="n"><rect x="2169" y="3233" width="90" height="26"/><text x="2214" y="3250">QStatusBar *</text></g>
<g id="QLineEditPtr" class="n"><rect x="2172" y="3292" width="85" height="26"/><text x="2214" y="3309">QLineEdit *</text></g>
<g id="QWidgetPtr" class="n"><rect x="2592" y="3348" width="80" height="26"/><text x="2632" y="3365">QWidget *</text></g>
<g id="documentation_dock_widget" class="n"><rect x="1687" y="3347" width="216" height="40"/><text x="1795" y="3363">QPointer&lt; octave::documentation</text><text x="1795" y="3379">_dock_widget &gt;</text></g>
<g id="QToolBar" class="n"><rect x="2590" y="3451" width="85" height="26"/><text x="2632" y="3468">QToolBar *</text></g>
<g id="files_dock_widget" class="n"><rect x="1715" y="3465" width="160" height="40"/><text x="1795" y="3481">QPointer&lt; octave::files</text><text x="1795" y="3497">_dock_widget &gt;</text></g>
<g id="QListQColor" class="n"><rect x="1353" y="3477" width="105" height="26"/><text x="1405" y="3494">QList&lt; QColor &gt;</text></g>
<g id="QMenu" class="n"><rect x="2597" y="3551" width="70" height="26"/><text x="2632" y="3568">QMenu *</text></g>
<g id="QMenuBar" class="n"><rect x="2587" y="3603" width="90" height="26"/><text x="2632" y="3620">QMenuBar *</text></g>
<g id="QAction" class="n"><rect x="2592" y="3652" width="80" height="26"/><text x="2632" y="3669">QAction *</text></g>
<g id="QComboBox" class="n"><rect x="2582" y="3806" width="100" height="26"/><text x="2632" y="3823">QComboBox *</text></g>
<g id="octave_dock_widget" class="n r"><rect x="3260" y="3909" width="146" height="40"/><text x="3333" y="3925">octave::octave_dock</text><text x="3333" y="3941">_widget</text></g>
</svg>
